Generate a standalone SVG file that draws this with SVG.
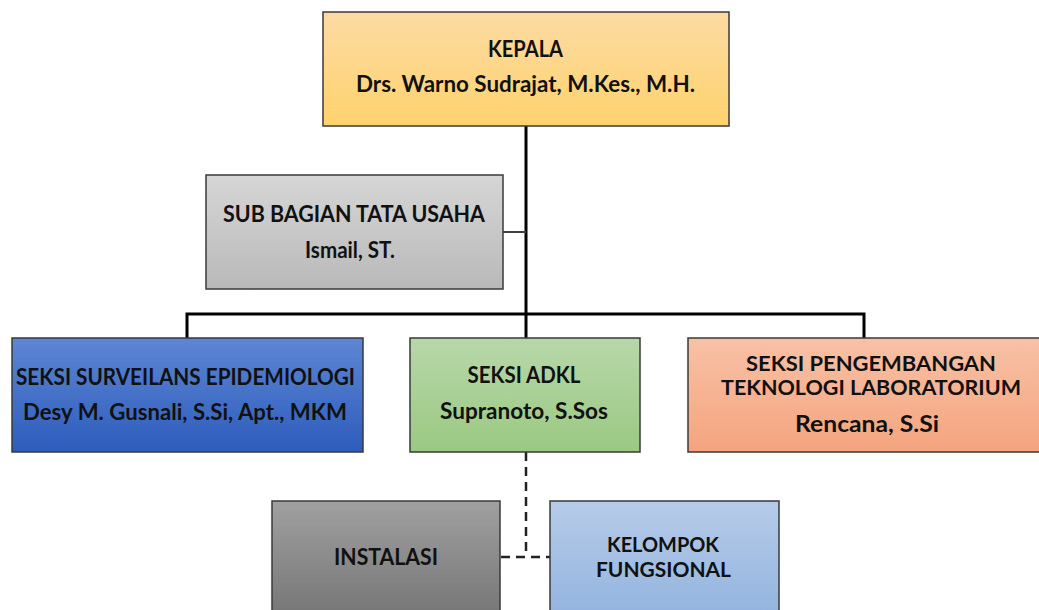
<svg xmlns="http://www.w3.org/2000/svg" width="1039" height="610" viewBox="0 0 1039 610">
<defs>
<linearGradient id="gOrange" x1="0" y1="0" x2="0" y2="1"><stop offset="0" stop-color="#fcdba3"/><stop offset="1" stop-color="#ffd26e"/></linearGradient>
<linearGradient id="gGray" x1="0" y1="0" x2="0" y2="1"><stop offset="0" stop-color="#d6d6d6"/><stop offset="1" stop-color="#b9b9b9"/></linearGradient>
<linearGradient id="gBlue" x1="0" y1="0" x2="0" y2="1"><stop offset="0" stop-color="#5d86d3"/><stop offset="1" stop-color="#2d5cbc"/></linearGradient>
<linearGradient id="gGreen" x1="0" y1="0" x2="0" y2="1"><stop offset="0" stop-color="#b8d7a9"/><stop offset="1" stop-color="#9ac982"/></linearGradient>
<linearGradient id="gSalmon" x1="0" y1="0" x2="0" y2="1"><stop offset="0" stop-color="#f8c1a6"/><stop offset="1" stop-color="#f4a47e"/></linearGradient>
<linearGradient id="gDark" x1="0" y1="0" x2="0" y2="1"><stop offset="0" stop-color="#a0a0a0"/><stop offset="1" stop-color="#767676"/></linearGradient>
<linearGradient id="gLight" x1="0" y1="0" x2="0" y2="1"><stop offset="0" stop-color="#b6cbe8"/><stop offset="1" stop-color="#93b4df"/></linearGradient>
</defs>
<style>
.box{stroke:#3a3a3a;stroke-width:1.5}
.t{font-family:Lato,"Open Sans","Liberation Sans",sans-serif;font-weight:bold;font-size:22px;fill:#111;text-anchor:middle}
.s{font-size:20px}
.solid{stroke:#000;stroke-width:3;fill:none}
.thin{stroke:#404040;stroke-width:2;fill:none}
.dash{stroke:#222;stroke-width:2.5;fill:none;stroke-dasharray:9,6}
</style>
<rect width="1039" height="610" fill="#fff"/>
<g id="connectors">
<line class="solid" x1="526" y1="126" x2="526" y2="338"/>
<line class="thin" x1="503" y1="232" x2="526" y2="232"/>
<polyline class="solid" points="187,338 187,314 864,314 864,338"/>
<line class="dash" x1="526" y1="452" x2="526" y2="557"/>
<line class="dash" x1="501" y1="557" x2="550" y2="557"/>
</g>
<g id="kepala">
<rect class="box" x="323" y="12" width="406" height="114" fill="url(#gOrange)"/>
<text class="t" x="525.5" y="57" textLength="75" lengthAdjust="spacingAndGlyphs">KEPALA</text>
<text class="t" x="525.5" y="92" textLength="339" lengthAdjust="spacingAndGlyphs">Drs. Warno Sudrajat, M.Kes., M.H.</text>
</g>
<g id="subbag">
<rect class="box" x="206" y="175" width="297" height="114" fill="url(#gGray)"/>
<text class="t" x="354" y="222" textLength="262" lengthAdjust="spacingAndGlyphs">SUB BAGIAN TATA USAHA</text>
<text class="t" x="350" y="258" textLength="90" lengthAdjust="spacingAndGlyphs">Ismail, ST.</text>
</g>
<g id="surveilans">
<rect class="box" x="12" y="338" width="351" height="114" fill="url(#gBlue)"/>
<text class="t" x="185.5" y="385" textLength="339" lengthAdjust="spacingAndGlyphs">SEKSI SURVEILANS EPIDEMIOLOGI</text>
<text class="t" x="185" y="420" textLength="324" lengthAdjust="spacingAndGlyphs">Desy M. Gusnali, S.Si, Apt., MKM</text>
</g>
<g id="adkl">
<rect class="box" x="410" y="338" width="230" height="114" fill="url(#gGreen)"/>
<text class="t" x="524" y="383" textLength="113" lengthAdjust="spacingAndGlyphs">SEKSI ADKL</text>
<text class="t" x="524" y="419" textLength="168" lengthAdjust="spacingAndGlyphs">Supranoto, S.Sos</text>
</g>
<g id="ptl">
<rect class="box" x="688" y="338" width="366" height="114" fill="url(#gSalmon)"/>
<text class="t s" x="871" y="371" textLength="250" lengthAdjust="spacingAndGlyphs">SEKSI PENGEMBANGAN</text>
<text class="t s" x="871" y="395" textLength="300" lengthAdjust="spacingAndGlyphs">TEKNOLOGI LABORATORIUM</text>
<text class="t" x="867" y="432" textLength="144" lengthAdjust="spacingAndGlyphs">Rencana, S.Si</text>
</g>
<g id="instalasi">
<rect class="box" x="272" y="501" width="228" height="115" fill="url(#gDark)"/>
<text class="t" x="386" y="565" textLength="104" lengthAdjust="spacingAndGlyphs">INSTALASI</text>
</g>
<g id="kelompok">
<rect class="box" x="550" y="501" width="229" height="115" fill="url(#gLight)"/>
<text class="t s" x="663" y="552" textLength="112" lengthAdjust="spacingAndGlyphs">KELOMPOK</text>
<text class="t s" x="663.5" y="577" textLength="135" lengthAdjust="spacingAndGlyphs">FUNGSIONAL</text>
</g>
</svg>
